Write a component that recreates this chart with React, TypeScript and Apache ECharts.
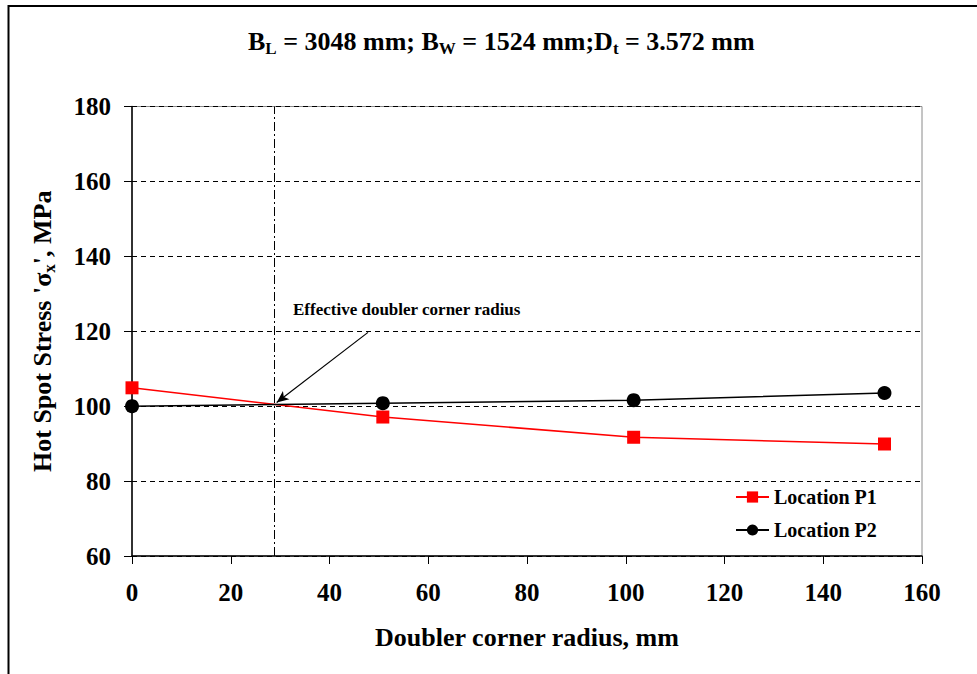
import React, { useEffect, useRef } from "react";
import * as echarts from "echarts";

const radius = [0, 50.8, 101.6, 152.4];
const locationP1 = [104.9, 97.1, 91.7, 89.9];
const locationP2 = [100.0, 100.8, 101.6, 103.5];
const seriesNames = ["Location P1", "Location P2"];
const effectiveRadius = 28.8;
const arrowFrom = [47.8, 119.7];
const arrowTo = [29.3, 101.0];
const annotationText = "Effective doubler corner radius";
const xTitle = "Doubler corner radius, mm";
const chartTitle = "{m|B}{sub|L}{m| = 3048 mm; B}{sub|W}{m| = 1524 mm;D}{sub|t}{m| = 3.572 mm}";
const FONT = "Liberation Serif";

export default function App() {
  const ref = useRef<HTMLDivElement>(null);
  useEffect(() => {
    if (!ref.current) return;
    const chart = echarts.init(ref.current, undefined, { renderer: "svg" });
    const p1 = radius.map((x, i) => [x, locationP1[i]]);
    const p2 = radius.map((x, i) => [x, locationP2[i]]);
    const mkSub = () => ({ fontFamily: FONT, fontWeight: "bold", fontSize: 17, color: "#000", fill: "#000", padding: [15, 0, 0, 0] });
    const mkMain = (size: number) => ({ fontFamily: FONT, fontWeight: "bold", fontSize: size, color: "#000", fill: "#000" });
    chart.setOption({
      animation: false,
      backgroundColor: "#fff",
      grid: {
        left: 132,
        right: 55,
        top: 106.5,
        bottom: 118,
        show: true,
        borderColor: "#8a8a8a",
        borderWidth: 1,
        backgroundColor: "transparent",
      },
      legend: {
        orient: "vertical",
        left: 735,
        top: 487,
        padding: 0,
        itemWidth: 33,
        itemHeight: 14,
        itemGap: 13,
        data: seriesNames,
        textStyle: { fontFamily: FONT, fontWeight: "bold", fontSize: 20, color: "#000" },
      },
      xAxis: {
        type: "value",
        min: 0,
        max: 160,
        interval: 20,
        name: xTitle,
        nameLocation: "middle",
        nameGap: 68,
        nameTextStyle: { fontFamily: FONT, fontWeight: "bold", fontSize: 26, color: "#000" },
        axisLine: { show: true, onZero: false, lineStyle: { color: "#000", width: 1.5 } },
        axisTick: { show: true, inside: false, length: 8, lineStyle: { color: "#000", width: 1 } },
        axisLabel: { margin: 24, fontFamily: FONT, fontWeight: "bold", fontSize: 25, color: "#000" },
        splitLine: { show: false },
      },
      yAxis: {
        type: "value",
        min: 60,
        max: 180,
        interval: 20,
        name: "{m|Hot Spot Stress '\u03c3}{sub|x}{m|', MPa}",
        nameLocation: "middle",
        nameGap: 74,
        nameTextStyle: {
          fontFamily: FONT,
          fontWeight: "bold",
          fontSize: 26,
          color: "#000",
          rich: { m: mkMain(26), sub: mkSub() },
        },
        axisLine: { show: true, onZero: false, lineStyle: { color: "#000", width: 1.5 } },
        axisTick: { show: true, inside: false, length: 8, lineStyle: { color: "#000", width: 1 } },
        axisLabel: { margin: 21, fontFamily: FONT, fontWeight: "bold", fontSize: 25, color: "#000" },
        splitLine: { show: true, lineStyle: { color: "#000", width: 1, type: [5, 4] } },
      },
      series: [
        {
          name: seriesNames[0],
          type: "line",
          data: p1,
          symbol: "rect",
          symbolSize: 13,
          lineStyle: { color: "#ff0000", width: 1.5 },
          itemStyle: { color: "#ff0000" },
          z: 3,
          markLine: {
            silent: true,
            symbol: ["none", "none"],
            label: { show: false },
            data: [
              [
                { coord: [effectiveRadius, 60], lineStyle: { color: "#000", width: 1, type: [9, 3, 2, 3] } },
                { coord: [effectiveRadius, 180] },
              ],
              [
                { coord: arrowFrom, symbol: "none", lineStyle: { color: "#000", width: 1.2, type: "solid" } },
                { coord: arrowTo, symbol: "arrow", symbolSize: [8, 12] },
              ],
            ],
          },
        },
        {
          name: seriesNames[1],
          type: "line",
          data: p2,
          symbol: "circle",
          symbolSize: 14,
          lineStyle: { color: "#000", width: 1.5 },
          itemStyle: { color: "#000" },
          z: 4,
        },
      ],
      graphic: [
        {
          type: "rect",
          shape: { x: 8.5, y: 6, width: 1200, height: 900 },
          style: { fill: "none", stroke: "#000", lineWidth: 2 },
          silent: true,
        },
        {
          type: "text",
          left: 248,
          top: 28,
          style: {
            text: chartTitle,
            fontFamily: FONT,
            fontWeight: "bold",
            fontSize: 26,
            fill: "#000",
            rich: { m: mkMain(26), sub: mkSub() },
          },
          silent: true,
        },
        {
          type: "text",
          left: 293,
          top: 301,
          style: {
            text: annotationText,
            fontFamily: FONT,
            fontWeight: "bold",
            fontSize: 17,
            fill: "#000",
          },
          silent: true,
        },
      ],
    });
    return () => chart.dispose();
  }, []);
  return (
    <div
      ref={ref}
      style={{ position: "fixed", left: 0, top: 0, width: 977, height: 674 }}
    />
  );
}
